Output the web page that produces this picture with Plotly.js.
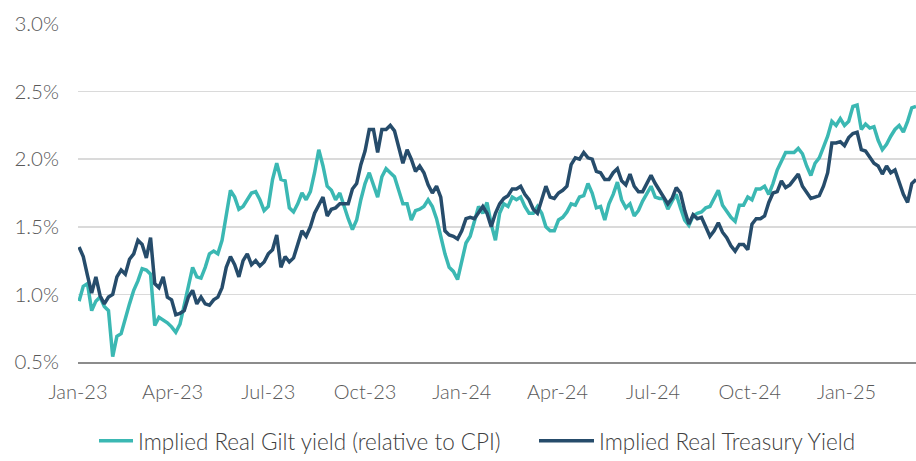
<!DOCTYPE html>
<html>
<head>
<meta charset="utf-8">
<script src="https://cdn.plot.ly/plotly-3.0.1.min.js"></script>
<style>
html,body{margin:0;padding:0;background:#fff;}
#chart{width:916px;height:461px;}
</style>
</head>
<body>
<div id="chart"></div>
<script>
// Sampling: one reading every 4 calendar days, starting 2 Jan 2023
const startDate = '2023-01-02';
const stepDays = 4;

const seriesNames = ['Implied Real Gilt yield (relative to CPI)', 'Implied Real Treasury Yield'];

const giltYield = [
0.95,1.06,1.08,0.88,0.95,0.98,0.91,0.88,0.54,0.69,
0.71,0.83,0.93,1.03,1.10,1.19,1.18,1.15,0.77,0.83,
0.81,0.79,0.76,0.72,0.78,0.93,1.08,1.20,1.13,1.12,
1.20,1.30,1.32,1.30,1.40,1.57,1.77,1.72,1.63,1.65,
1.70,1.75,1.76,1.70,1.62,1.65,1.85,1.97,1.85,1.84,
1.64,1.61,1.67,1.75,1.70,1.76,1.90,2.07,1.95,1.80,
1.77,1.70,1.75,1.65,1.56,1.48,1.55,1.70,1.82,1.90,
1.80,1.72,1.87,1.93,1.90,1.87,1.77,1.67,1.67,1.55,
1.62,1.63,1.65,1.70,1.65,1.56,1.43,1.30,1.20,1.17,
1.11,1.24,1.38,1.43,1.55,1.65,1.60,1.68,1.52,1.40,
1.60,1.67,1.65,1.72,1.70,1.72,1.65,1.60,1.60,1.65,
1.60,1.50,1.47,1.47,1.55,1.57,1.61,1.67,1.66,1.72,
1.73,1.82,1.75,1.64,1.65,1.55,1.67,1.74,1.83,1.70,
1.64,1.67,1.58,1.62,1.69,1.75,1.80,1.72,1.71,1.71,
1.63,1.69,1.74,1.64,1.55,1.51,1.58,1.60,1.61,1.64,
1.65,1.71,1.77,1.66,1.61,1.57,1.54,1.66,1.66,1.72,
1.70,1.78,1.78,1.80,1.74,1.82,1.92,1.99,2.05,2.05,
2.05,2.08,2.04,1.95,1.88,1.97,2.01,2.09,2.17,2.28,
2.25,2.30,2.25,2.28,2.39,2.40,2.22,2.26,2.23,2.24,
2.14,2.07,2.11,2.17,2.22,2.25,2.20,2.28,2.38,2.39
];

const treasuryYield = [
1.35,1.28,1.14,1.01,1.13,0.99,0.93,0.98,1.00,1.13,
1.18,1.15,1.26,1.30,1.40,1.37,1.27,1.42,1.08,1.05,
1.13,0.98,0.96,0.85,0.86,0.88,0.98,1.03,0.93,0.98,
0.93,0.92,0.96,0.98,1.05,1.20,1.28,1.22,1.13,1.25,
1.30,1.22,1.25,1.21,1.24,1.30,1.33,1.44,1.20,1.28,
1.24,1.27,1.37,1.47,1.43,1.50,1.60,1.66,1.72,1.58,
1.63,1.64,1.67,1.67,1.67,1.78,1.82,1.96,2.06,2.22,
2.22,2.05,2.22,2.22,2.25,2.21,2.10,1.97,2.07,2.00,
1.91,1.95,1.90,1.81,1.75,1.80,1.72,1.47,1.44,1.43,
1.41,1.47,1.56,1.57,1.56,1.60,1.65,1.60,1.50,1.60,
1.67,1.71,1.73,1.78,1.78,1.80,1.74,1.70,1.63,1.60,
1.70,1.80,1.72,1.71,1.75,1.77,1.80,1.96,2.01,2.00,
2.05,2.01,2.00,1.91,1.90,1.85,1.85,1.90,1.93,1.84,
1.81,1.89,1.80,1.76,1.76,1.82,1.88,1.82,1.77,1.73,
1.67,1.71,1.79,1.75,1.62,1.52,1.59,1.56,1.57,1.50,
1.43,1.47,1.53,1.46,1.42,1.36,1.32,1.37,1.37,1.33,
1.52,1.56,1.56,1.58,1.68,1.75,1.76,1.84,1.79,1.81,
1.85,1.89,1.80,1.76,1.71,1.72,1.73,1.80,1.90,2.12,
2.12,2.13,2.10,2.16,2.19,2.20,2.07,2.06,2.02,1.97,
1.95,1.89,1.95,1.90,1.92,1.82,1.74,1.68,1.82,1.85
];

const xTickVals = ['2023-01-01','2023-04-01','2023-07-01','2023-10-01','2024-01-01','2024-04-01','2024-07-01','2024-10-01','2025-01-01'];
const xTickText = ['Jan-23','Apr-23','Jul-23','Oct-23','Jan-24','Apr-24','Jul-24','Oct-24','Jan-25'];
const yTickVals = [0.5,1.0,1.5,2.0,2.5,3.0];
const yTickText = ['0.5%','1.0%','1.5%','2.0%','2.5%','3.0%'];

function buildDates(n){
  const out = [];
  const base = new Date(startDate + 'T00:00:00Z');
  for (let i = 0; i < n; i++) {
    const d = new Date(base.getTime() + i * stepDays * 86400000);
    out.push(d.toISOString().slice(0,10));
  }
  return out;
}
const dates = buildDates(giltYield.length);

const traces = [
  {x: dates, y: giltYield, name: seriesNames[0], type: 'scatter', mode: 'lines',
   line: {color: '#3BB8B3', width: 3.5}, legend: 'legend'},
  {x: dates, y: treasuryYield, name: seriesNames[1], type: 'scatter', mode: 'lines',
   line: {color: '#264C6B', width: 3.5}, legend: 'legend2'}
];

const font = "Lato, 'Open Sans', sans-serif";
const legendFont = {family: font, size: 22.5, color: '#404040', weight: 300};
const layout = {
  width: 916, height: 461,
  margin: {l: 78, r: 0, t: 24, b: 99, pad: 0},
  paper_bgcolor: '#ffffff', plot_bgcolor: '#ffffff',
  font: {family: font, size: 20, color: '#595959', weight: 300},
  showlegend: true,
  legend: {orientation: 'h', xref: 'container', yref: 'container', x: 94/916, y: 0.043,
           xanchor: 'left', yanchor: 'middle', font: legendFont,
           itemwidth: 34, bgcolor: 'rgba(0,0,0,0)'},
  legend2: {orientation: 'h', xref: 'container', yref: 'container', x: 534/916, y: 0.043,
           xanchor: 'left', yanchor: 'middle', font: legendFont,
           itemwidth: 55, bgcolor: 'rgba(0,0,0,0)'},
  xaxis: {type: 'date', range: ['2023-01-01', '2025-03-08'],
          tickvals: xTickVals, ticktext: xTickText, showgrid: false, zeroline: false,
          showline: true, linecolor: '#8C8C8C', linewidth: 2, ticks: '', ticklabelstandoff: 11,
          tickfont: {family: font, size: 20, color: '#595959', weight: 300}, fixedrange: true},
  yaxis: {range: [0.5, 3.0], tickvals: yTickVals, ticktext: yTickText,
          showgrid: true, gridcolor: '#DADADA', gridwidth: 1.5, zeroline: false,
          showline: false, ticks: '', ticklabelstandoff: 18,
          tickfont: {family: font, size: 20.5, color: '#595959', weight: 300}, fixedrange: true}
};

Plotly.newPlot('chart', traces, layout, {displayModeBar: false, staticPlot: true});
</script>
</body>
</html>
